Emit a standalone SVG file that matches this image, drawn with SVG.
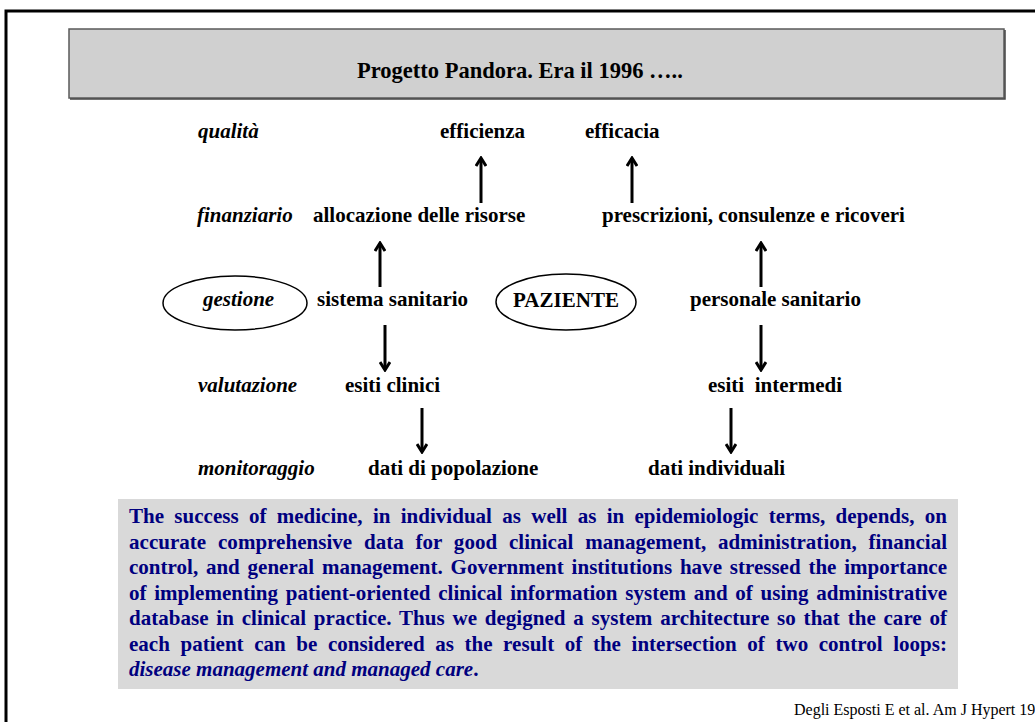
<svg xmlns="http://www.w3.org/2000/svg" width="1035" height="722" viewBox="0 0 1035 722">
<defs>
<style>
.lbl{font-family:"Liberation Serif","Times New Roman",serif;font-size:21px;font-weight:bold;fill:#000}
.ttl{font-size:22.5px}
.it{font-style:italic}
.body{font-family:"Liberation Serif","Times New Roman",serif;font-size:21px;font-weight:bold;fill:#00007f}
.cite{font-family:"Liberation Serif","Times New Roman",serif;font-size:16px;fill:#000}
.arr{stroke:#000;stroke-width:3;fill:none}
.ell{stroke:#000;stroke-width:1.5;fill:none}
</style>
<marker id="ah" viewBox="0 0 12 12" refX="10" refY="6" markerWidth="12" markerHeight="12" markerUnits="userSpaceOnUse" orient="auto">
<polyline points="2,1 10,6 2,11" fill="none" stroke="#000" stroke-width="3"/>
</marker>
</defs>
<rect width="1035" height="722" fill="#fff"/>
<path d="M6,730 V11 H1040" fill="none" stroke="#000" stroke-width="3"/>
<g id="title">
<rect x="69" y="29" width="935" height="69" fill="#d0d0d0" stroke="#5a5a5a" stroke-width="1.5"/>
<path d="M1005,30 V99 H70" fill="none" stroke="#444" stroke-width="1.5"/>
<text class="lbl ttl" x="357" y="78">Progetto Pandora. Era il 1996 …..</text>
</g>
<g id="levels">
<text class="lbl it" x="198" y="138">qualità</text>
<text class="lbl it" x="197" y="222">finanziario</text>
<g id="gestione">
<ellipse class="ell" cx="235" cy="303" rx="72" ry="27"/>
<text class="lbl it" x="203" y="306">gestione</text>
</g>
<text class="lbl it" x="198" y="392">valutazione</text>
<text class="lbl it" x="198" y="475">monitoraggio</text>
</g>
<g id="n-efficienza"><text class="lbl" x="440" y="138">efficienza</text></g>
<g id="n-efficacia"><text class="lbl" x="585" y="138">efficacia</text></g>
<g id="n-allocazione"><text class="lbl" x="313" y="222">allocazione delle risorse</text></g>
<g id="n-prescrizioni"><text class="lbl" x="602" y="222">prescrizioni, consulenze e ricoveri</text></g>
<g id="n-sistema"><text class="lbl" x="317" y="306">sistema sanitario</text></g>
<g id="n-paziente">
<ellipse class="ell" cx="566" cy="302" rx="70" ry="28"/>
<text class="lbl" x="566" y="307" text-anchor="middle">PAZIENTE</text>
</g>
<g id="n-personale"><text class="lbl" x="690" y="306">personale sanitario</text></g>
<g id="n-esiticlinici"><text class="lbl" x="345" y="392">esiti clinici</text></g>
<g id="n-esitiintermedi"><text class="lbl" x="708" y="392" style="white-space:pre">esiti  intermedi</text></g>
<g id="n-datipop"><text class="lbl" x="368" y="475">dati di popolazione</text></g>
<g id="n-datiind"><text class="lbl" x="648" y="475">dati individuali</text></g>
<g id="connectors">
<line class="arr" x1="481" y1="203" x2="481" y2="158" marker-end="url(#ah)"/>
<line class="arr" x1="632" y1="203" x2="632" y2="158" marker-end="url(#ah)"/>
<line class="arr" x1="380" y1="287" x2="380" y2="243" marker-end="url(#ah)"/>
<line class="arr" x1="761" y1="287" x2="761" y2="243" marker-end="url(#ah)"/>
<line class="arr" x1="385" y1="325" x2="385" y2="370" marker-end="url(#ah)"/>
<line class="arr" x1="761" y1="325" x2="761" y2="370" marker-end="url(#ah)"/>
<line class="arr" x1="422" y1="408" x2="422" y2="452" marker-end="url(#ah)"/>
<line class="arr" x1="731" y1="408" x2="731" y2="452" marker-end="url(#ah)"/>
</g>
<g id="abstract">
<rect x="118" y="499" width="840" height="190" fill="#d9d9d9"/>
<text class="body" x="129" y="523" textLength="818" lengthAdjust="spacing" word-spacing="5">The success of medicine, in individual as well as in epidemiologic terms, depends, on</text>
<text class="body" x="129" y="549" textLength="818" lengthAdjust="spacing" word-spacing="6.5">accurate comprehensive data for good clinical management, administration, financial</text>
<text class="body" x="129" y="574" textLength="818" lengthAdjust="spacing" word-spacing="2.5">control, and general management. Government institutions have stressed the importance</text>
<text class="body" x="129" y="600" textLength="818" lengthAdjust="spacing" word-spacing="2.5">of implementing patient-oriented clinical information system and of using administrative</text>
<text class="body" x="129" y="625" textLength="818" lengthAdjust="spacing" word-spacing="2.5">database in clinical practice. Thus we degigned a system architecture so that the care of</text>
<text class="body" x="129" y="651" textLength="818" lengthAdjust="spacing" word-spacing="5.3">each patient can be considered as the result of the intersection of two control loops:</text>
<text class="body" x="129" y="676"><tspan class="it">disease management and managed care</tspan>.</text>
</g>
<g id="citation"><text class="cite" x="794" y="715">Degli Esposti E et al. Am J Hypert 19</text></g>
</svg>
